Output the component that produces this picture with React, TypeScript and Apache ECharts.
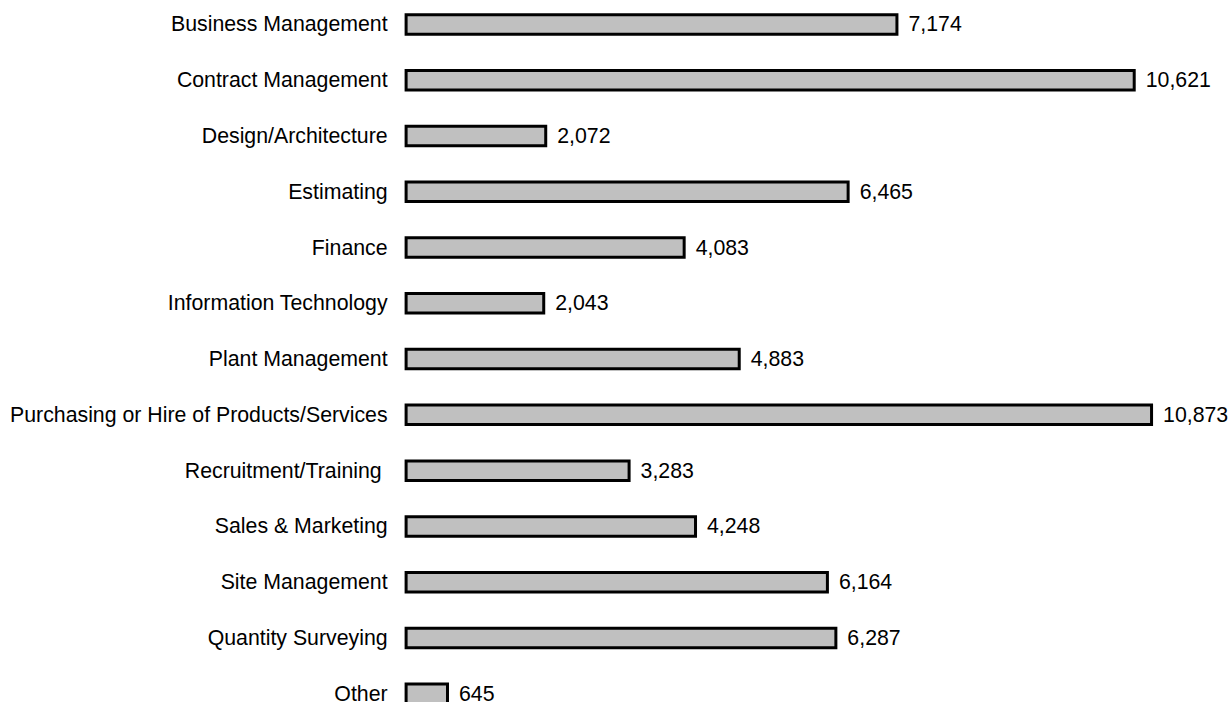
import React, { useEffect, useRef } from "react";
import * as echarts from "echarts";

const categories = [
  "Business Management",
  "Contract Management",
  "Design/Architecture",
  "Estimating",
  "Finance",
  "Information Technology",
  "Plant Management",
  "Purchasing or Hire of Products/Services",
  "Recruitment/Training ",
  "Sales & Marketing",
  "Site Management",
  "Quantity Surveying",
  "Other",
];

const values = [7174, 10621, 2072, 6465, 4083, 2043, 4883, 10873, 3283, 4248, 6164, 6287, 645];

const FONT = "'Liberation Sans', Arial, Helvetica, sans-serif";

export default function App() {
  const ref = useRef<HTMLDivElement>(null);

  useEffect(() => {
    if (!ref.current) return;
    const chart = echarts.init(ref.current, null, { renderer: "svg" });
    chart.setOption({
      animation: false,
      backgroundColor: "#ffffff",
      grid: {
        left: 404.6,
        top: 16.6,
        width: 757.2,
        height: 725,
        containLabel: false,
      },
      xAxis: {
        type: "value",
        min: 0,
        max: 11000,
        show: false,
      },
      yAxis: {
        type: "category",
        data: categories,
        inverse: true,
        axisLine: { show: false },
        axisTick: { show: false },
        splitLine: { show: false },
        axisLabel: {
          margin: 17,
          color: "#000000",
          fontSize: 21.3,
          fontFamily: FONT,
        },
      },
      series: [
        {
          type: "bar",
          data: values,
          barWidth: 22.5,
          itemStyle: {
            color: "#c0c0c0",
            borderColor: "#000000",
            borderWidth: 3,
          },
          label: {
            show: true,
            position: "right",
            distance: 10,
            color: "#000000",
            fontSize: 21.3,
            fontFamily: FONT,
            formatter: (p: any) => Number(p.value).toLocaleString("en-US"),
          },
        },
      ],
    });
    return () => chart.dispose();
  }, []);

  return (
    <div
      style={{
        position: "fixed",
        left: 0,
        top: 0,
        width: 1230,
        height: 702,
        overflow: "hidden",
        background: "#fff",
      }}
    >
      <div
        ref={ref}
        style={{ position: "absolute", left: 0, top: -20, width: 1230, height: 760 }}
      />
    </div>
  );
}
